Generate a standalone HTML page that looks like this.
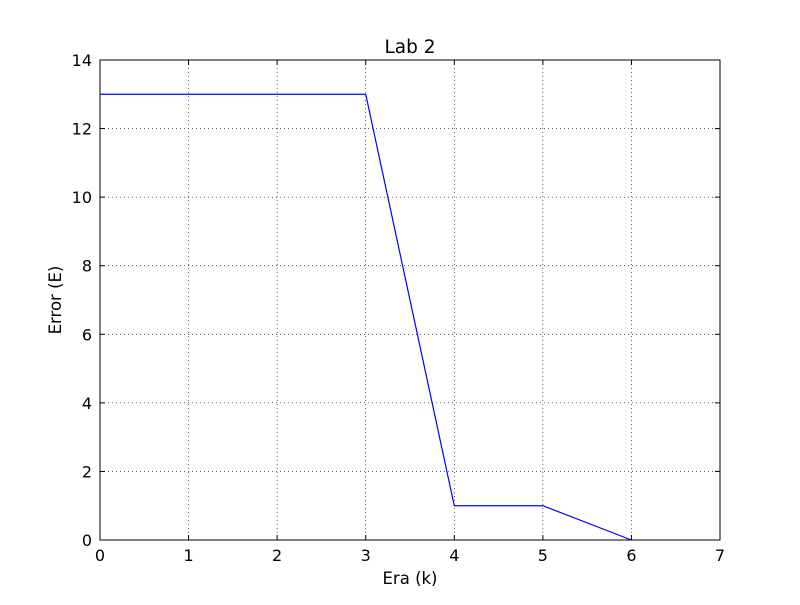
<!DOCTYPE html>
<html><head><meta charset="utf-8"><style>
html,body{margin:0;padding:0;background:#fff;}
svg text{font-family:"DejaVu Sans","Liberation Sans",sans-serif;fill:#000;}
</style></head><body>
<svg id="chart" width="800" height="600" xmlns="http://www.w3.org/2000/svg">
<rect width="800" height="600" fill="#fff"/>
<g id="grid"></g>
<g id="ticks"></g>
<path id="line" fill="none" stroke="#0000ff" stroke-width="1.2"/>
<rect x="100" y="60" width="620" height="480" fill="none" stroke="#000" stroke-width="1"/>
<text x="410" y="53" font-size="18.5" text-anchor="middle">Lab 2</text>
<text x="410" y="584" font-size="16.5" text-anchor="middle">Era (k)</text>
<text x="61" y="300" font-size="16.5" text-anchor="middle" transform="rotate(-90 61 300)">Error (E)</text>
</svg>
<script>
const xValues=[0,1,2,3,4,5,6];
const yValues=[13,13,13,13,1,1,0];
const xTicks=[0,1,2,3,4,5,6,7];
const yTicks=[0,2,4,6,8,10,12,14];
const X0=100,X1=720,Y0=540,Y1=60,XMAX=7,YMAX=14;
function sx(v){return X0+(X1-X0)*v/XMAX;}
function sy(v){return Y0-(Y0-Y1)*v/YMAX;}
const NS="http://www.w3.org/2000/svg";
const grid=document.getElementById('grid'),ticks=document.getElementById('ticks');
function mk(tag,attrs,parent){const e=document.createElementNS(NS,tag);for(const k in attrs)e.setAttribute(k,attrs[k]);parent.appendChild(e);return e;}
xTicks.forEach(t=>{
  const x=sx(t);
  const g=mk('line',{x1:x,x2:x,y1:Y1,y2:Y0,stroke:'#000','stroke-width':0.6,'stroke-dasharray':'1,3'},grid);
  
  
  mk('line',{x1:x,x2:x,y1:Y0,y2:Y0-5,stroke:'#000'},ticks);
  mk('line',{x1:x,x2:x,y1:Y1,y2:Y1+5,stroke:'#000'},ticks);
  const l=mk('text',{x:x,y:Y0+21,'font-size':16,'text-anchor':'middle'},ticks);
  l.textContent=t;
  
  
});
yTicks.forEach(t=>{
  const y=sy(t);
  const g=mk('line',{x1:X0,x2:X1,y1:y,y2:y,stroke:'#000','stroke-width':0.6,'stroke-dasharray':'1,3'},grid);
  
  
  mk('line',{x1:X0,x2:X0+5,y1:y,y2:y,stroke:'#000'},ticks);
  mk('line',{x1:X1,x2:X1-5,y1:y,y2:y,stroke:'#000'},ticks);
  const l=mk('text',{x:X0-8,y:y+6,'font-size':16,'text-anchor':'end'},ticks);
  l.textContent=t;
  
  
});
document.getElementById('line').setAttribute('d',xValues.map((v,i)=>(i?'L':'M')+sx(v)+','+sy(yValues[i])).join(' '));
</script>
</body></html>
